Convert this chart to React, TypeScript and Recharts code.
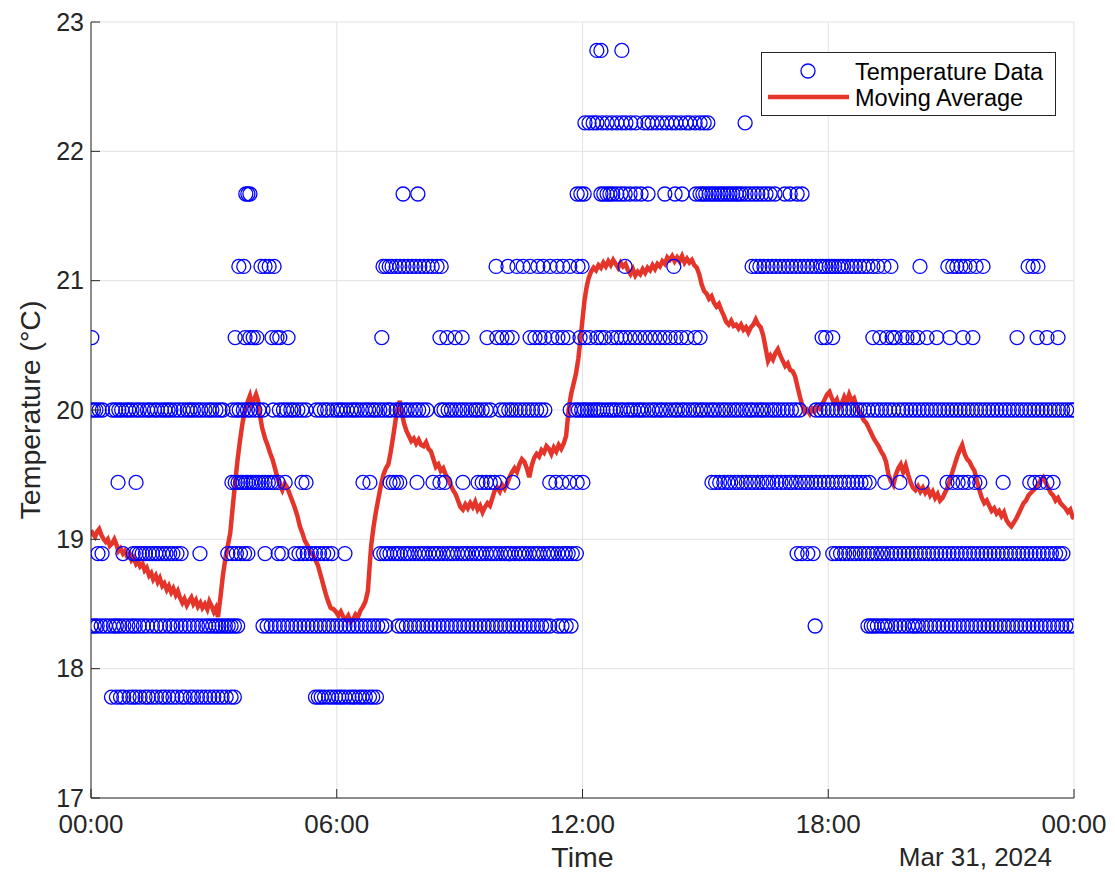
import React from 'react';
import { ComposedChart, Scatter, Line, XAxis, YAxis, CartesianGrid, Legend, Label } from 'recharts';

// the sensor reports whole °F, so the readings sit on fixed Celsius levels
const levels = [17.78, 18.33, 18.89, 19.44, 20.0, 20.56, 21.11, 21.67, 22.22, 22.78];

// reading times (hours since midnight) for each level
const at17_78 = [
  0.5, 0.62, 0.72, 0.8, 0.93, 1.02, 1.1, 1.2, 1.32, 1.4, 1.5, 1.6, 1.72, 1.8, 1.9, 2.0, 2.1, 2.22, 2.3, 2.42,
  2.5, 2.6, 2.7, 2.8, 2.9, 3.0, 3.1, 3.2, 3.3, 3.42, 3.5,
  5.48, 5.55, 5.62, 5.7, 5.8, 5.88, 5.97, 6.05, 6.12, 6.2, 6.3, 6.38, 6.45, 6.55, 6.62, 6.7, 6.8, 6.88, 6.97,
];
const at18_33 = [
  0.0, 0.08, 0.15, 0.25, 0.35, 0.45, 0.55, 0.62, 0.7, 0.8, 0.9, 1.0, 1.08, 1.18, 1.28, 1.38, 1.5, 1.6, 1.7, 1.8,
  1.92, 2.0, 2.1, 2.2, 2.3, 2.4, 2.5, 2.6, 2.7, 2.8, 2.88, 2.97, 3.05, 3.12, 3.2, 3.28, 3.35, 3.42, 3.5, 3.58,
  4.2, 4.3, 4.4, 4.5, 4.6, 4.7, 4.8, 4.9, 5.0, 5.1, 5.2, 5.3, 5.4, 5.5, 5.6, 5.7, 5.8, 5.9, 6.0, 6.1, 6.2,
  6.3, 6.4, 6.5, 6.6, 6.7, 6.8, 6.9, 7.0, 7.1, 7.2,
  7.5, 7.6, 7.7, 7.8, 7.9, 8.0, 8.1, 8.2, 8.3, 8.4, 8.5, 8.6, 8.7, 8.8, 8.9, 9.0, 9.1, 9.2, 9.3, 9.4, 9.5,
  9.6, 9.7, 9.8, 9.9, 10.0, 10.1, 10.2, 10.3, 10.4, 10.5, 10.6, 10.7, 10.8, 10.9, 11.0, 11.1, 11.2, 11.4,
  11.5, 11.6, 11.72,
  17.68,
  18.97, 19.05, 19.12, 19.2, 19.3, 19.38, 19.45, 19.55, 19.65, 19.75, 19.85, 19.95, 20.05, 20.12, 20.2, 20.3,
  20.4, 20.5, 20.6, 20.7, 20.8, 20.9, 21.0, 21.1, 21.2, 21.3, 21.4, 21.5, 21.6, 21.7, 21.8, 21.9, 22.0, 22.1,
  22.2, 22.3, 22.4, 22.5, 22.6, 22.7, 22.8, 22.9, 23.0, 23.1, 23.2, 23.3, 23.4, 23.5, 23.6, 23.7, 23.8, 23.9, 24.0,
];
const at18_89 = [
  0.17, 0.27, 0.78, 1.03, 1.1, 1.18, 1.25, 1.33, 1.42, 1.5, 1.58, 1.65, 1.75, 1.83, 1.92, 2.0, 2.1, 2.2, 2.66,
  3.34, 3.45, 3.55, 3.65, 3.75, 3.83, 4.25, 4.57, 4.66, 4.98, 5.08, 5.18, 5.28, 5.38, 5.48, 5.58, 5.68, 5.78,
  5.88, 6.2,
  7.06, 7.15, 7.22, 7.3, 7.4, 7.48, 7.55, 7.65, 7.72, 7.8, 7.9, 8.0, 8.08, 8.15, 8.25, 8.35, 8.42, 8.5, 8.6,
  8.7, 8.78, 8.85, 8.95, 9.05, 9.12, 9.2, 9.3, 9.4, 9.48, 9.55, 9.65, 9.75, 9.82, 9.9, 10.0, 10.1, 10.18,
  10.25, 10.35, 10.45, 10.52, 10.6, 10.7, 10.8, 10.88, 10.95, 11.05, 11.15, 11.22, 11.3, 11.4, 11.5, 11.58,
  11.65, 11.75, 11.85,
  17.24, 17.35, 17.5, 17.63,
  18.11, 18.2, 18.3, 18.4, 18.5, 18.6, 18.68, 18.78, 18.88, 18.98, 19.08, 19.18, 19.28, 19.35, 19.45, 19.55,
  19.65, 19.75, 19.85, 19.95, 20.05, 20.15, 20.25, 20.35, 20.45, 20.55, 20.65, 20.75, 20.85, 20.95, 21.05,
  21.15, 21.25, 21.35, 21.45, 21.55, 21.65, 21.75, 21.85, 21.95, 22.05, 22.15, 22.25, 22.35, 22.45, 22.55,
  22.65, 22.75, 22.85, 22.95, 23.05, 23.15, 23.25, 23.35, 23.45, 23.55, 23.65, 23.73,
];
const at19_44 = [
  0.66, 1.1,
  3.44, 3.52, 3.59, 3.66, 3.71, 3.78, 3.83, 3.9, 3.96, 4.03, 4.1, 4.18, 4.25, 4.33, 4.4, 4.47, 4.57, 4.74,
  5.15, 5.25,
  6.64, 6.81, 7.3, 7.38, 7.46, 7.54, 7.96, 8.35, 8.52, 8.64, 9.08, 9.45, 9.55, 9.65, 9.75, 9.85, 9.99, 10.3,
  11.2, 11.35, 11.5, 11.68, 11.87, 12.01,
  15.16, 15.25, 15.35, 15.45, 15.55, 15.62, 15.72, 15.8, 15.9, 16.0, 16.1, 16.18, 16.28, 16.38, 16.48, 16.55,
  16.65, 16.75, 16.85, 16.95, 17.05, 17.12, 17.22, 17.32, 17.42, 17.5, 17.6, 17.7, 17.8, 17.9, 18.0, 18.1,
  18.2, 18.3, 18.4, 18.5, 18.6, 18.7, 18.8, 18.9, 19.0,
  19.38, 19.75, 20.29, 20.9, 21.04, 21.17, 21.29, 21.41, 21.58, 21.7, 22.27, 22.92, 23.04, 23.17, 23.34, 23.49,
];
const at20_00 = [
  0.0, 0.06, 0.12, 0.2, 0.28, 0.52, 0.6, 0.68, 0.75, 0.85, 0.92, 1.0, 1.1, 1.18, 1.28, 1.38, 1.45, 1.55, 1.62,
  1.72, 1.8, 1.88, 1.95, 2.05, 2.15, 2.25, 2.35, 2.42, 2.5, 2.6, 2.68, 2.78, 2.88, 2.95, 3.05, 3.15, 3.22,
  3.45, 3.55, 3.62, 3.72, 3.82, 3.9, 4.0, 4.1, 4.2, 4.45, 4.6, 4.7, 4.78, 4.88, 4.95, 5.05, 5.15, 5.25, 5.5,
  5.6, 5.7, 5.78, 5.9, 6.0, 6.08, 6.15, 6.25, 6.35, 6.42, 6.5, 6.6, 6.7, 6.78, 6.88, 6.95, 7.05, 7.15, 7.25,
  7.32, 7.45, 7.55, 7.65, 7.72, 7.82, 7.92, 8.0, 8.1, 8.2, 8.55, 8.62, 8.72, 8.8, 8.9, 9.0, 9.08, 9.18, 9.28,
  9.38, 9.45, 9.55, 9.65, 9.75, 10.0, 10.1, 10.2, 10.28, 10.38, 10.48, 10.58, 10.68, 10.78, 10.88, 10.98, 11.08,
  11.7, 11.82, 11.9, 11.98, 12.05, 12.12, 12.2, 12.28, 12.35, 12.42, 12.5, 12.6, 12.68, 12.75, 12.82, 12.92,
  13.0, 13.1, 13.18, 13.25, 13.35, 13.42, 13.5, 13.6, 13.7, 13.78, 13.88, 13.95, 14.05, 14.15, 14.25, 14.32,
  14.42, 14.5, 14.6, 14.7, 14.78, 14.88, 14.95, 15.05, 15.15, 15.22, 15.32, 15.42, 15.5, 15.6, 15.7, 15.78,
  15.88, 15.98, 16.08, 16.15, 16.25, 16.35, 16.42, 16.52, 16.62, 16.7, 16.8, 16.9, 17.0, 17.1, 17.2, 17.3,
  17.7, 17.8, 17.9, 18.0, 18.1, 18.2, 18.3, 18.4, 18.5, 18.6, 18.7, 18.78, 18.88, 18.98, 19.1, 19.2, 19.3,
  19.4, 19.5, 19.6, 19.72, 19.82, 19.92, 20.02, 20.12, 20.22, 20.32, 20.42, 20.52, 20.62, 20.72, 20.82, 20.92,
  21.02, 21.12, 21.22, 21.32, 21.42, 21.52, 21.62, 21.72, 21.82, 21.92, 22.02, 22.12, 22.22, 22.32, 22.42,
  22.52, 22.62, 22.72, 22.82, 22.92, 23.02, 23.12, 23.22, 23.32, 23.42, 23.52, 23.62, 23.72, 23.82, 23.92, 24.0,
];
const at20_56 = [
  0.02, 3.52, 3.76, 3.88, 3.96, 4.05, 4.42, 4.54, 4.61, 4.81, 7.1, 8.52, 8.69, 8.89, 9.06, 9.67, 9.91, 10.03,
  10.16, 10.28, 10.72, 10.84, 10.96, 11.08, 11.25, 11.4, 11.52, 11.65, 11.94,
  12.06, 12.18, 12.35, 12.45, 12.55, 12.72, 12.84, 12.94, 13.04, 13.16, 13.28, 13.4, 13.53, 13.65, 13.77,
  13.89, 14.01, 14.14, 14.28, 14.41, 14.55, 14.75, 14.87,
  17.85, 17.94, 18.11, 19.09, 19.26, 19.43, 19.56, 19.63, 19.8, 19.92, 20.07, 20.19, 20.41, 20.65, 20.97,
  21.29, 21.53, 22.61, 23.1, 23.34, 23.61,
];
const at21_11 = [
  3.61, 3.73, 4.15, 4.25, 4.35, 4.47,
  7.13, 7.2, 7.28, 7.35, 7.45, 7.54, 7.64, 7.74, 7.84, 7.93, 8.03, 8.13, 8.23, 8.33, 8.45, 8.55,
  9.89, 10.18, 10.4, 10.55, 10.72, 10.91, 11.04, 11.21, 11.38, 11.52, 11.69, 11.89, 11.99, 13.04, 14.23,
  16.14, 16.24, 16.33, 16.43, 16.53, 16.63, 16.72, 16.82, 16.92, 17.02, 17.11, 17.21, 17.31, 17.41, 17.5,
  17.6, 17.7, 17.8, 17.87, 17.94, 18.02, 18.09, 18.16, 18.24, 18.31, 18.38, 18.48, 18.58, 18.67, 18.77,
  18.87, 18.97, 19.09, 19.21, 19.36, 19.53, 20.24, 20.92, 21.04, 21.14, 21.24, 21.34, 21.46, 21.61, 21.78,
  22.88, 23.0, 23.12,
];
const at21_67 = [
  3.78, 3.83, 3.88, 7.62, 7.98,
  11.87, 11.96, 12.04, 12.45, 12.52, 12.6, 12.67, 12.74, 12.84, 12.94, 13.04, 13.16, 13.3, 13.43, 13.6,
  14.01, 14.26, 14.43, 14.77, 14.87, 14.94, 15.01, 15.09, 15.16, 15.23, 15.31, 15.38, 15.45, 15.53, 15.6,
  15.67, 15.75, 15.82, 15.89, 15.99, 16.09, 16.19, 16.28, 16.38, 16.48, 16.58, 16.7, 16.94, 17.07, 17.24, 17.36,
];
const at22_22 = [
  12.06, 12.16, 12.26, 12.35, 12.48, 12.6, 12.72, 12.84, 12.96, 13.06, 13.18, 13.3, 13.5, 13.6, 13.7, 13.82,
  13.94, 14.06, 14.18, 14.28, 14.4, 14.53, 14.62, 14.75, 14.87, 14.97, 15.06, 15.97,
];
const at22_78 = [12.35, 12.45, 12.96];

const readingHours = [at17_78, at18_33, at18_89, at19_44, at20_00, at20_56, at21_11, at21_67, at22_22, at22_78];

// moving average as [hour, °C]
const movingAvgReadings: [number, number][] = [
  [0.0, 19.07], [0.05, 19.04], [0.1, 19.02], [0.15, 19.06], [0.2, 19.08], [0.26, 19.03], [0.31, 19.0],
  [0.36, 18.98], [0.41, 19.0], [0.46, 18.95], [0.52, 18.97], [0.57, 19.0], [0.62, 18.96], [0.67, 18.91],
  [0.72, 18.93], [0.78, 18.89], [0.83, 18.91], [0.88, 18.87], [0.94, 18.89], [0.99, 18.84], [1.04, 18.86],
  [1.1, 18.81], [1.15, 18.83], [1.2, 18.79], [1.26, 18.81], [1.31, 18.76], [1.36, 18.78], [1.42, 18.72],
  [1.47, 18.74], [1.52, 18.69], [1.58, 18.72], [1.63, 18.67], [1.68, 18.7], [1.74, 18.64], [1.79, 18.66],
  [1.85, 18.61], [1.9, 18.64], [1.96, 18.59], [2.01, 18.62], [2.07, 18.57], [2.12, 18.6], [2.17, 18.55],
  [2.23, 18.51], [2.28, 18.54], [2.34, 18.49], [2.39, 18.52], [2.45, 18.55], [2.5, 18.5], [2.56, 18.53],
  [2.61, 18.48], [2.67, 18.51], [2.72, 18.47], [2.78, 18.5], [2.84, 18.46], [2.89, 18.52], [2.95, 18.48],
  [3.0, 18.44], [3.05, 18.47], [3.1, 18.4], [3.16, 18.55], [3.22, 18.72], [3.28, 18.85], [3.34, 18.95],
  [3.4, 19.05], [3.46, 19.25], [3.52, 19.44], [3.58, 19.62], [3.64, 19.77], [3.7, 19.9], [3.76, 20.0],
  [3.82, 20.06], [3.88, 20.11], [3.93, 20.04], [3.98, 20.08], [4.03, 20.12], [4.08, 20.07], [4.13, 19.95],
  [4.18, 19.86], [4.25, 19.78], [4.31, 19.73], [4.37, 19.67], [4.43, 19.62], [4.49, 19.55], [4.55, 19.48],
  [4.61, 19.42], [4.67, 19.38], [4.73, 19.43], [4.79, 19.4], [4.85, 19.35], [4.91, 19.3], [4.97, 19.25],
  [5.04, 19.18], [5.1, 19.1], [5.16, 19.05], [5.22, 18.99], [5.29, 18.95], [5.35, 18.9], [5.42, 18.88],
  [5.48, 18.84], [5.54, 18.8], [5.61, 18.72], [5.67, 18.65], [5.73, 18.58], [5.79, 18.52], [5.85, 18.47],
  [5.92, 18.46], [5.98, 18.44], [6.04, 18.41], [6.1, 18.44], [6.16, 18.4], [6.22, 18.38], [6.28, 18.41],
  [6.34, 18.36], [6.4, 18.38], [6.46, 18.42], [6.52, 18.4], [6.58, 18.45], [6.64, 18.48], [6.7, 18.52],
  [6.76, 18.6], [6.8, 18.78], [6.84, 18.95], [6.9, 19.1], [6.96, 19.22], [7.02, 19.32], [7.08, 19.42],
  [7.14, 19.5], [7.2, 19.55], [7.26, 19.58], [7.32, 19.68], [7.38, 19.8], [7.44, 19.93], [7.5, 20.03],
  [7.54, 20.07], [7.59, 19.98], [7.64, 19.9], [7.7, 19.84], [7.76, 19.8], [7.82, 19.76], [7.88, 19.78],
  [7.94, 19.74], [8.0, 19.77], [8.06, 19.73], [8.12, 19.72], [8.18, 19.75], [8.24, 19.7], [8.3, 19.68],
  [8.36, 19.62], [8.42, 19.56], [8.48, 19.58], [8.54, 19.53], [8.6, 19.55], [8.66, 19.5], [8.72, 19.47],
  [8.78, 19.42], [8.84, 19.38], [8.9, 19.35], [8.96, 19.3], [9.02, 19.25], [9.08, 19.23], [9.14, 19.27],
  [9.2, 19.24], [9.26, 19.28], [9.32, 19.25], [9.38, 19.29], [9.44, 19.23], [9.5, 19.26], [9.56, 19.21],
  [9.62, 19.25], [9.68, 19.28], [9.74, 19.26], [9.8, 19.32], [9.86, 19.38], [9.92, 19.4], [9.98, 19.37],
  [10.04, 19.42], [10.1, 19.39], [10.16, 19.43], [10.22, 19.48], [10.28, 19.52], [10.34, 19.55],
  [10.4, 19.52], [10.46, 19.58], [10.52, 19.62], [10.58, 19.6], [10.64, 19.55], [10.7, 19.48],
  [10.76, 19.57], [10.82, 19.63], [10.88, 19.66], [10.94, 19.64], [11.0, 19.69], [11.06, 19.67],
  [11.12, 19.72], [11.18, 19.7], [11.24, 19.66], [11.3, 19.71], [11.36, 19.68], [11.42, 19.73],
  [11.48, 19.7], [11.54, 19.74], [11.6, 19.8], [11.66, 20.0], [11.72, 20.12], [11.78, 20.2], [11.84, 20.28],
  [11.9, 20.4], [11.95, 20.55], [12.0, 20.7], [12.05, 20.85], [12.1, 20.95], [12.15, 21.02], [12.21, 21.07],
  [12.27, 21.1], [12.33, 21.08], [12.39, 21.12], [12.45, 21.1], [12.51, 21.14], [12.57, 21.11],
  [12.63, 21.15], [12.69, 21.12], [12.75, 21.16], [12.81, 21.13], [12.87, 21.1], [12.93, 21.14],
  [12.99, 21.11], [13.05, 21.13], [13.11, 21.08], [13.17, 21.05], [13.23, 21.09], [13.29, 21.04],
  [13.35, 21.07], [13.41, 21.05], [13.47, 21.09], [13.53, 21.06], [13.59, 21.1], [13.65, 21.08],
  [13.71, 21.12], [13.77, 21.09], [13.83, 21.13], [13.89, 21.11], [13.95, 21.15], [14.01, 21.13],
  [14.07, 21.18], [14.13, 21.16], [14.19, 21.19], [14.25, 21.15], [14.31, 21.18], [14.37, 21.15],
  [14.43, 21.19], [14.49, 21.14], [14.55, 21.17], [14.61, 21.14], [14.67, 21.16], [14.73, 21.12],
  [14.79, 21.1], [14.85, 21.05], [14.91, 20.97], [14.97, 20.92], [15.03, 20.9], [15.09, 20.86],
  [15.15, 20.88], [15.21, 20.83], [15.27, 20.8], [15.33, 20.82], [15.39, 20.77], [15.45, 20.73],
  [15.51, 20.68], [15.57, 20.66], [15.63, 20.69], [15.69, 20.65], [15.75, 20.66], [15.81, 20.63],
  [15.87, 20.66], [15.93, 20.62], [15.99, 20.64], [16.05, 20.6], [16.11, 20.64], [16.17, 20.66],
  [16.23, 20.7], [16.29, 20.66], [16.35, 20.64], [16.41, 20.58], [16.47, 20.48], [16.53, 20.38],
  [16.59, 20.42], [16.65, 20.39], [16.71, 20.44], [16.77, 20.47], [16.83, 20.42], [16.89, 20.38],
  [16.95, 20.34], [17.01, 20.36], [17.07, 20.31], [17.13, 20.3], [17.19, 20.26], [17.25, 20.18],
  [17.31, 20.1], [17.37, 20.03], [17.43, 19.98], [17.49, 20.0], [17.55, 19.97], [17.61, 20.01],
  [17.67, 19.99], [17.73, 20.03], [17.79, 20.01], [17.85, 20.04], [17.91, 20.08], [17.97, 20.12],
  [18.03, 20.14], [18.09, 20.09], [18.15, 20.05], [18.21, 20.08], [18.27, 20.02], [18.33, 20.05],
  [18.39, 20.1], [18.45, 20.06], [18.51, 20.12], [18.57, 20.07], [18.63, 20.09], [18.69, 20.03],
  [18.75, 19.98], [18.81, 19.96], [18.87, 19.92], [18.93, 19.9], [18.99, 19.86], [19.05, 19.82],
  [19.11, 19.78], [19.17, 19.75], [19.23, 19.72], [19.29, 19.68], [19.35, 19.65], [19.41, 19.6],
  [19.47, 19.5], [19.53, 19.45], [19.59, 19.42], [19.65, 19.5], [19.71, 19.55], [19.77, 19.58],
  [19.83, 19.52], [19.89, 19.57], [19.95, 19.5], [20.01, 19.44], [20.07, 19.4], [20.13, 19.38],
  [20.19, 19.41], [20.25, 19.37], [20.31, 19.4], [20.37, 19.36], [20.43, 19.39], [20.49, 19.34],
  [20.55, 19.37], [20.61, 19.32], [20.67, 19.35], [20.73, 19.3], [20.79, 19.32], [20.85, 19.36],
  [20.91, 19.4], [20.97, 19.46], [21.03, 19.52], [21.09, 19.58], [21.15, 19.64], [21.21, 19.69],
  [21.27, 19.73], [21.33, 19.66], [21.39, 19.62], [21.45, 19.6], [21.51, 19.56], [21.57, 19.53],
  [21.63, 19.45], [21.69, 19.38], [21.75, 19.32], [21.81, 19.28], [21.87, 19.3], [21.93, 19.26],
  [21.99, 19.22], [22.05, 19.24], [22.11, 19.2], [22.17, 19.22], [22.23, 19.18], [22.29, 19.21],
  [22.35, 19.15], [22.41, 19.12], [22.47, 19.1], [22.53, 19.13], [22.59, 19.16], [22.65, 19.2],
  [22.71, 19.24], [22.77, 19.28], [22.83, 19.3], [22.89, 19.34], [22.95, 19.36], [23.01, 19.38],
  [23.07, 19.4], [23.13, 19.43], [23.19, 19.46], [23.25, 19.48], [23.31, 19.44], [23.37, 19.4],
  [23.43, 19.36], [23.49, 19.34], [23.55, 19.3], [23.61, 19.32], [23.67, 19.28], [23.73, 19.26],
  [23.79, 19.24], [23.85, 19.21], [23.91, 19.23], [23.97, 19.17], [24.0, 19.16],
];

const xTicks = [0, 6, 12, 18, 24];
const xTickLabels = ['00:00', '06:00', '12:00', '18:00', '00:00'];
const yTicks = [17, 18, 19, 20, 21, 22, 23];

const points = levels.flatMap((temp, i) => readingHours[i].map((t) => ({ t, temp })));
const movingAvg = movingAvgReadings.map(([t, temp]) => ({ t, temp }));

const INK = '#262626';
const BLUE = '#0000ff';
const RED = '#e5352b';
const FONT = '"Liberation Sans", Arial, Helvetica, sans-serif';
const TICK = 9;

function BottomTick({ x, y, payload }: any) {
  const label = xTickLabels[xTicks.indexOf(payload.value)];
  return (
    <g>
      <line x1={x} x2={x} y1={y} y2={y - TICK} stroke={INK} />
      <text x={x} y={y + 35} textAnchor="middle" fontSize={26} fill={INK} fontFamily={FONT}>
        {label}
      </text>
    </g>
  );
}

function TopTick({ x, y }: any) {
  return <line x1={x} x2={x} y1={y} y2={y + TICK} stroke={INK} />;
}

function LeftTick({ x, y, payload }: any) {
  return (
    <g>
      <line x1={x} x2={x + TICK} y1={y} y2={y} stroke={INK} />
      <text x={x - 7} y={y + 8.5} textAnchor="end" fontSize={25} fill={INK} fontFamily={FONT}>
        {payload.value}
      </text>
    </g>
  );
}

function RightTick({ x, y }: any) {
  return <line x1={x} x2={x - TICK} y1={y} y2={y} stroke={INK} />;
}

function Ring({ cx, cy }: any) {
  return <circle cx={cx} cy={cy} r={7} fill="none" stroke={BLUE} strokeWidth={1.3} />;
}

function XLabels() {
  return (
    <g fontFamily={FONT} fill={INK}>
      <text x={582.5} y={867} textAnchor="middle" fontSize={28.5}>Time</text>
      <text x={1052} y={866} textAnchor="end" fontSize={26}>Mar 31, 2024</text>
    </g>
  );
}

function YLabel() {
  return (
    <text
      x={40}
      y={410}
      transform="rotate(-90 40 410)"
      textAnchor="middle"
      fontSize={28.5}
      fill={INK}
      fontFamily={FONT}
    >
      Temperature (°C)
    </text>
  );
}

function LegendBox() {
  return (
    <svg width={296} height={65} style={{ display: 'block' }} fontFamily={FONT}>
      <rect x={0.5} y={0.5} width={294} height={63} fill="#fff" stroke={INK} />
      <circle cx={47} cy={19} r={7} fill="none" stroke={BLUE} strokeWidth={1.3} />
      <line x1={7} x2={88} y1={45} y2={45} stroke={RED} strokeWidth={4.5} />
      <text x={94} y={27.5} fontSize={23.5} fill="#000">Temperature Data</text>
      <text x={94} y={53.5} fontSize={23.5} fill="#000">Moving Average</text>
    </svg>
  );
}

export default function App() {
  return (
    <div style={{ position: 'absolute', left: 0, top: 0 }}>
      <ComposedChart width={1115} height={872} margin={{ top: 22, right: 41, bottom: 44, left: 0 }}>
        <CartesianGrid stroke="#e2e2e2" />
        <XAxis
          dataKey="t"
          type="number"
          domain={[0, 24]}
          ticks={xTicks}
          interval={0}
          allowDataOverflow
          height={30}
          tickSize={0}
          tickMargin={0}
          tickLine={false}
          axisLine={{ stroke: INK }}
          tick={BottomTick}
        >
          <Label content={XLabels} />
        </XAxis>
        <XAxis
          xAxisId="top"
          orientation="top"
          type="number"
          domain={[0, 24]}
          ticks={xTicks}
          interval={0}
          allowDataOverflow
          height={0}
          tickSize={0}
          tickMargin={0}
          tickLine={false}
          axisLine={{ stroke: INK }}
          tick={TopTick}
        />
        <YAxis
          type="number"
          domain={[17, 23]}
          ticks={yTicks}
          interval={0}
          allowDataOverflow
          width={91}
          tickSize={0}
          tickMargin={0}
          tickLine={false}
          axisLine={{ stroke: INK }}
          tick={LeftTick}
        >
          <Label content={YLabel} />
        </YAxis>
        <YAxis
          yAxisId="right"
          orientation="right"
          type="number"
          domain={[17, 23]}
          ticks={yTicks}
          interval={0}
          allowDataOverflow
          width={0}
          tickSize={0}
          tickMargin={0}
          tickLine={false}
          axisLine={{ stroke: INK }}
          tick={RightTick}
        />
        <Scatter data={points} dataKey="temp" shape={Ring} isAnimationActive={false} />
        <Line
          data={movingAvg}
          dataKey="temp"
          type="linear"
          stroke={RED}
          strokeWidth={4.5}
          dot={false}
          activeDot={false}
          isAnimationActive={false}
        />
        <Legend
          layout="horizontal"
          verticalAlign="middle"
          align="center"
          content={LegendBox}
          wrapperStyle={{ left: 761, top: 52, width: 296, height: 65 }}
        />
      </ComposedChart>
    </div>
  );
}
